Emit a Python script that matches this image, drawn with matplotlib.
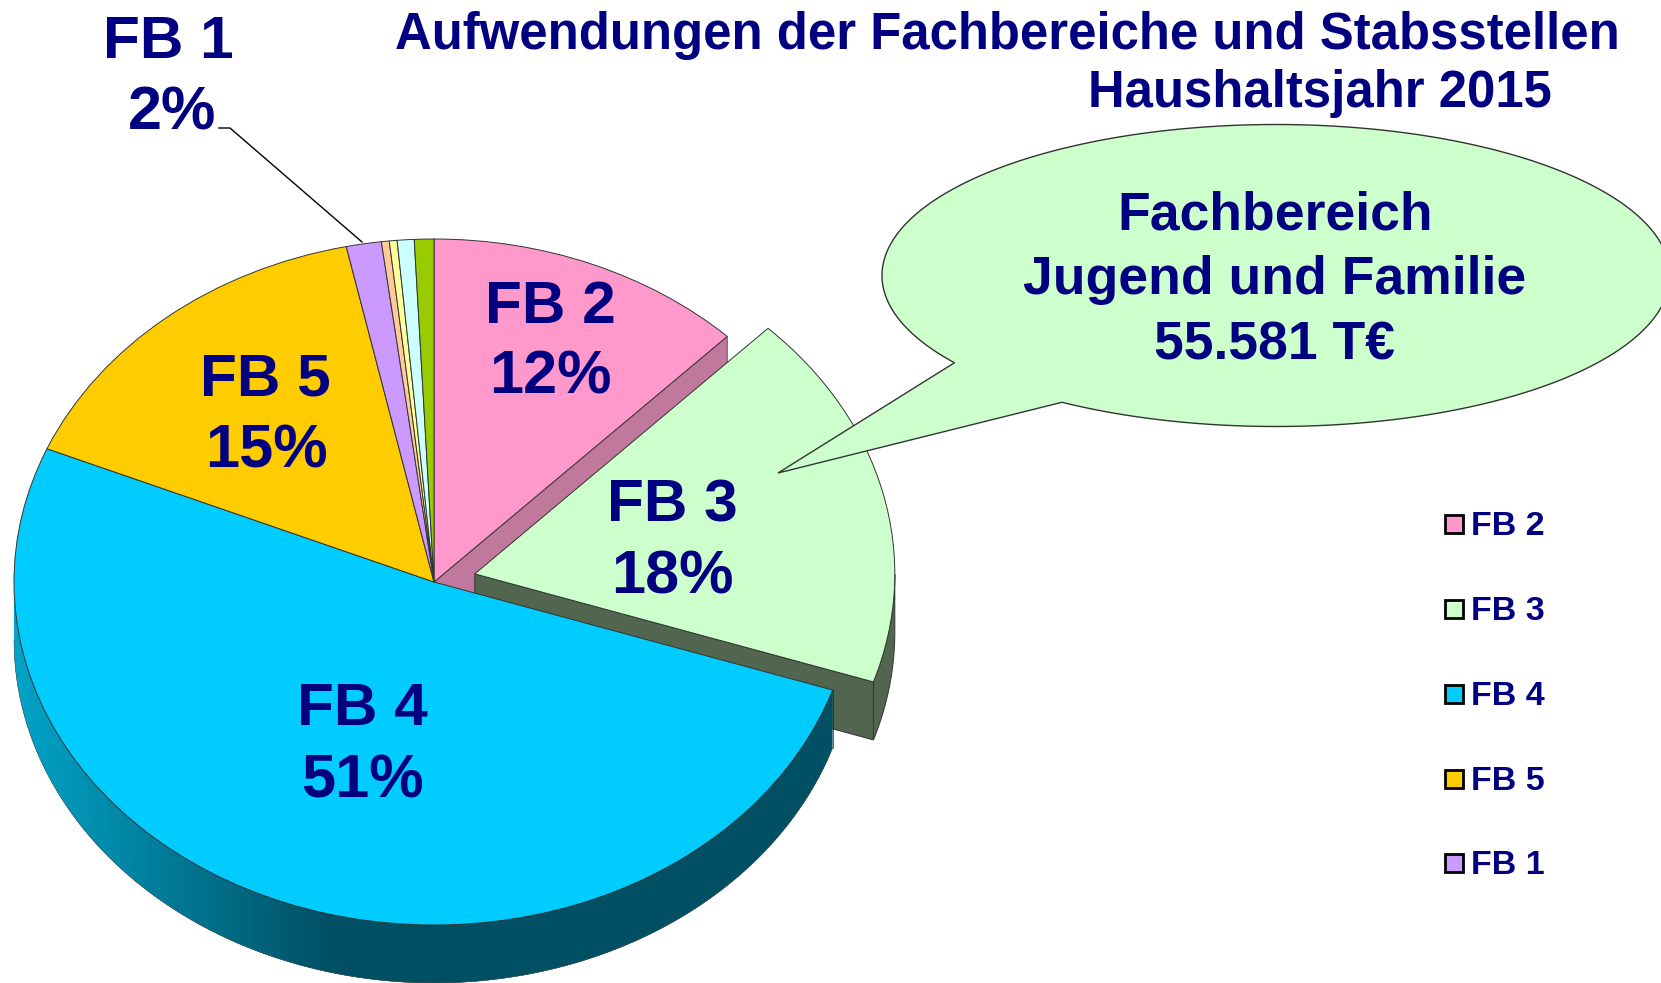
import numpy as np
import matplotlib
matplotlib.use('Agg')
import matplotlib.pyplot as plt
from matplotlib.patches import Polygon

# slice shares (%), clockwise from 12 o'clock
shares = [12.3, 17.8, 51.25, 15.3, 1.35, 0.3, 0.3, 0.65, 0.75]
colors = ['#FF99CC', '#CCFFCC', '#00CCFF', '#FFCC00', '#CC99FF',
          '#FFCC99', '#FFFF99', '#CCFFFF', '#99CC00']
explode = [0, 0.1, 0, 0, 0, 0, 0, 0, 0]

legend_names = ['FB 2', 'FB 3', 'FB 4', 'FB 5', 'FB 1']
legend_colors = ['#FF99CC', '#CCFFCC', '#00CCFF', '#FFCC00', '#CC99FF']

label_names = ['FB 1', 'FB 2', 'FB 3', 'FB 4', 'FB 5']
label_pcts = ['2%', '12%', '18%', '51%', '15%']

title1 = 'Aufwendungen der Fachbereiche und Stabsstellen'
title2 = 'Haushaltsjahr 2015'
callout_lines = ['Fachbereich', 'Jugend und Familie', '55.581 T€']

W, H = 1661, 983
navy = '#000080'
plt.rcParams['font.family'] = ['Liberation Sans', 'DejaVu Sans']

# pie geometry in pixels
cx, cy, rx, ry = 434, 582, 420, 343
depth = 58 / ry

fig = plt.figure(figsize=(W / 100, H / 100), dpi=100)
ax = fig.add_axes([0, 0, 1, 1])
wedges, _ = ax.pie(shares, colors=colors, explode=explode, startangle=90, counterclock=False,
                   wedgeprops={'edgecolor': '#333333', 'linewidth': 0.7, 'zorder': 3})
ax.set_aspect('auto')
ax.set_xlim(-cx / rx, (W - cx) / rx)
ax.set_ylim((cy - H) / ry, cy / ry)

edges = np.radians(np.cumsum([0] + shares) * 3.6)


def rim(a0, a1, x0=0.0, y0=0.0):
    a = np.linspace(a0, a1, 80)
    return x0 + np.sin(a), y0 + np.cos(a)


# FB 2 cut face, seen because FB 3 is pulled out
ex, ey = np.sin(edges[1]), np.cos(edges[1])
ax.add_patch(Polygon([(0, 0), (ex, ey), (ex, ey - depth), (0, -depth)], fc='#C0789C', ec='#444444', lw=0.6, zorder=1))

# FB 3 cut face and rim
mid = (edges[1] + edges[2]) / 2
ox, oy = explode[1] * np.sin(mid), explode[1] * np.cos(mid)
ex, ey = ox + np.sin(edges[2]), oy + np.cos(edges[2])
ax.add_patch(Polygon([(ox, oy), (ex, ey), (ex, ey - depth), (ox, oy - depth)], fc='#52664F', ec='#333333', lw=0.7, zorder=1.2))
x, y = rim(np.pi / 2, edges[2], ox, oy)
ax.add_patch(Polygon(np.r_[np.c_[x, y], np.c_[x, y - depth][::-1]], fc='#52664F', ec='#333333', lw=0.7, zorder=1.1))

# FB 4 rim, shaded from dark on the right to lighter on the far left
dark = np.array([0x00, 0x4F, 0x63]) / 255
light = np.array([0x00, 0xA4, 0xC8]) / 255
a = np.linspace(edges[2], 1.5 * np.pi, 260)
step = a[1] - a[0]
for a0 in a[:-1]:
    sx = cx + rx * np.sin(a0 + step / 2)
    f = np.clip((330 - sx) / (330 - 14), 0, 1)
    c = dark + (light - dark) * f
    # each piece runs on under the next one so no seams show
    x, y = rim(a0, min(a0 + 3 * step, a[-1]))
    ax.add_patch(Polygon(np.r_[np.c_[x, y], np.c_[x, y - depth][::-1]], fc=c, ec='none', lw=0, zorder=1.5))
x, y = rim(edges[2], 1.5 * np.pi)
ax.plot(x, y - depth, color='#555555', lw=0.4, zorder=1.6)
ax.plot([x[0], x[0]], [y[0], y[0] - depth], color='#222222', lw=0.5, zorder=1.6)

# overlay in pixel coordinates for texts and callout
ov = fig.add_axes([0, 0, 1, 1], facecolor='none')
ov.set_xlim(0, W)
ov.set_ylim(H, 0)
ov.axis('off')

ov.text(1007, 49, title1, color=navy, fontsize=36.6, fontweight='bold', ha='center', va='baseline')
ov.text(1320, 107, title2, color=navy, fontsize=36.6, fontweight='bold', ha='center', va='baseline')

# data labels
label_x = [168, 550, 672, 362, 265]
pct_x = [172, 550, 672, 362, 266]
label_y1 = [58, 323, 522, 725, 395]
label_y2 = [129, 394, 594, 797, 468]
for name, pct, lx, px, y1, y2 in zip(label_names, label_pcts, label_x, pct_x, label_y1, label_y2):
    ov.text(lx, y1, name, color=navy, fontsize=43.5, fontweight='bold', ha='center', va='baseline')
    ov.text(px, y2, pct, color=navy, fontsize=44, fontweight='bold', ha='center', va='baseline')

# leader line FB 1
ov.plot([219, 230, 362], [128, 128, 242], color='black', lw=1)

# callout
ccx, ccy, crx, cry = 1276, 275.5, 394, 151
t = np.radians(np.linspace(144.7, 360 + 122.9, 300))
pts = np.c_[ccx + crx * np.cos(t), ccy + cry * np.sin(t)]
pts = np.r_[pts, [[778, 473]]]
ov.add_patch(Polygon(pts, fc='#CCFFCC', ec='#333333', lw=1, clip_on=True))
for line, ty in zip(callout_lines, [230, 294, 359]):
    ov.text(1275, ty, line, color=navy, fontsize=38.5, fontweight='bold', ha='center', va='baseline')

# legend
legend_y = [524, 609, 694, 779, 863]
for name, c, ly in zip(legend_names, legend_colors, legend_y):
    ov.plot([1454], [ly], 's', ms=13.5, mfc=c, mec='black', mew=2)
    ov.text(1471, ly + 11, name, color=navy, fontsize=24.5, fontweight='bold', ha='left', va='baseline')

fig.savefig('out.png', dpi=100, facecolor='white')
